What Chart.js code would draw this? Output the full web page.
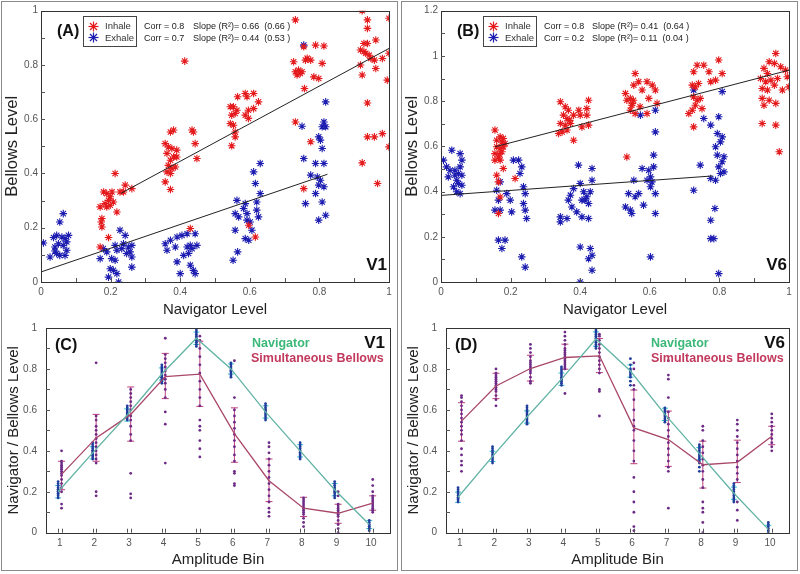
<!DOCTYPE html>
<html><head><meta charset="utf-8">
<script src="https://cdn.jsdelivr.net/npm/chart.js@4.4.0/dist/chart.umd.min.js"></script>
<style>
body{margin:0;width:800px;height:574px;position:relative;background:#fff;overflow:hidden;font-family:"Liberation Sans",Arial,sans-serif}
.col{position:absolute;top:1px;width:395px;height:570px;border:1px solid #8a8a8a;box-sizing:border-box}
canvas{position:absolute}
.t{position:absolute;white-space:nowrap;color:#111}
.lab{font-weight:bold;font-size:16px;line-height:18px}
.v{font-weight:bold;font-size:17px;line-height:18px}
.lg{position:absolute;border:1px solid #444;background:#fff;box-sizing:border-box}
.lt{position:absolute;white-space:nowrap;font-size:9.5px;line-height:12px;color:#333}
.st{position:absolute}
.nav{font-weight:bold;font-size:12.5px;line-height:14px;color:#3cb878}
.bel{font-weight:bold;font-size:12.5px;line-height:14px;color:#c23a5e}
</style></head>
<body>
<div class="col" style="left:1px;width:397px"></div>
<div class="col" style="left:401px;width:397px"></div>

<canvas id="cA" width="400" height="320" style="left:0;top:0"></canvas>
<canvas id="cB" width="400" height="320" style="left:400px;top:0"></canvas>
<canvas id="cC" width="400" height="254" style="left:0;top:320px"></canvas>
<canvas id="cD" width="400" height="254" style="left:400px;top:320px"></canvas>

<!-- Panel A annotations -->
<div class="t lab" style="left:57px;top:22px">(A)</div>
<div class="lg" style="left:83px;top:16px;width:54px;height:31px"></div>
<svg class="st" style="left:88px;top:21px" width="11" height="11"><g stroke="#e41a1c" stroke-width="1.2"><line x1="5.5" y1="0.5" x2="5.5" y2="10.5"/><line x1="0.5" y1="5.5" x2="10.5" y2="5.5"/><line x1="2" y1="2" x2="9" y2="9"/><line x1="9" y1="2" x2="2" y2="9"/></g></svg>
<svg class="st" style="left:88px;top:32px" width="11" height="11"><g stroke="#1c1cb0" stroke-width="1.2"><line x1="5.5" y1="0.5" x2="5.5" y2="10.5"/><line x1="0.5" y1="5.5" x2="10.5" y2="5.5"/><line x1="2" y1="2" x2="9" y2="9"/><line x1="9" y1="2" x2="2" y2="9"/></g></svg>
<div class="lt" style="left:105px;top:20px">Inhale</div>
<div class="lt" style="left:105px;top:32px">Exhale</div>
<div class="lt" style="left:144px;top:20px;font-size:9px;color:#222">Corr = 0.8</div>
<div class="lt" style="left:144px;top:32px;font-size:9px;color:#222">Corr = 0.7</div>
<div class="lt" style="left:193px;top:20px;font-size:9px;color:#222">Slope (R²)= 0.66&nbsp; (0.66 )</div>
<div class="lt" style="left:193px;top:32px;font-size:9px;color:#222">Slope (R²)= 0.44&nbsp; (0.53 )</div>
<div class="t v" style="right:413px;top:256px">V1</div>

<!-- Panel B annotations -->
<div class="t lab" style="left:457px;top:22px">(B)</div>
<div class="lg" style="left:483px;top:16px;width:54px;height:31px"></div>
<svg class="st" style="left:488px;top:21px" width="11" height="11"><g stroke="#e41a1c" stroke-width="1.2"><line x1="5.5" y1="0.5" x2="5.5" y2="10.5"/><line x1="0.5" y1="5.5" x2="10.5" y2="5.5"/><line x1="2" y1="2" x2="9" y2="9"/><line x1="9" y1="2" x2="2" y2="9"/></g></svg>
<svg class="st" style="left:488px;top:32px" width="11" height="11"><g stroke="#1c1cb0" stroke-width="1.2"><line x1="5.5" y1="0.5" x2="5.5" y2="10.5"/><line x1="0.5" y1="5.5" x2="10.5" y2="5.5"/><line x1="2" y1="2" x2="9" y2="9"/><line x1="9" y1="2" x2="2" y2="9"/></g></svg>
<div class="lt" style="left:505px;top:20px">Inhale</div>
<div class="lt" style="left:505px;top:32px">Exhale</div>
<div class="lt" style="left:544px;top:20px;font-size:9px;color:#222">Corr = 0.8</div>
<div class="lt" style="left:544px;top:32px;font-size:9px;color:#222">Corr = 0.2</div>
<div class="lt" style="left:592px;top:20px;font-size:9px;color:#222">Slope (R²)= 0.41&nbsp; (0.64 )</div>
<div class="lt" style="left:592px;top:32px;font-size:9px;color:#222">Slope (R²)= 0.11&nbsp; (0.04 )</div>
<div class="t v" style="right:13px;top:256px">V6</div>

<!-- Panel C annotations -->
<div class="t lab" style="left:55px;top:336px">(C)</div>
<div class="t nav" style="left:252px;top:336px">Navigator</div>
<div class="t bel" style="left:251px;top:351px">Simultaneous Bellows</div>
<div class="t v" style="right:415px;top:334px">V1</div>

<!-- Panel D annotations -->
<div class="t lab" style="left:455px;top:336px">(D)</div>
<div class="t nav" style="left:651px;top:336px">Navigator</div>
<div class="t bel" style="left:651px;top:351px">Simultaneous Bellows</div>
<div class="t v" style="right:15px;top:334px">V6</div>

<script>
// ---------------- DATA ----------------
const inhaleA = [
[0.17,0.277],[0.175,0.234],[0.173,0.221],[0.175,0.203],[0.17,0.129],[0.194,0.164],[0.18,0.332],[0.189,0.326],[0.199,0.314],[0.194,0.301],[0.204,0.332],[0.184,0.289],[0.208,0.295],[0.199,0.283],[0.213,0.4],[0.218,0.258],[0.227,0.332],[0.242,0.357],[0.237,0.332],[0.261,0.344],[0.189,0.277],
[0.381,0.56],[0.372,0.553],[0.357,0.51],[0.366,0.498],[0.376,0.492],[0.362,0.474],[0.381,0.461],[0.372,0.449],[0.39,0.486],[0.39,0.461],[0.366,0.43],[0.376,0.418],[0.386,0.424],[0.362,0.406],[0.372,0.4],[0.357,0.369],[0.372,0.341],[0.434,0.56],[0.438,0.553],[0.443,0.51],[0.448,0.455],[0.413,0.814],[0.429,0.197],
[0.544,0.646],[0.553,0.646],[0.548,0.615],[0.558,0.621],[0.544,0.584],[0.553,0.578],[0.563,0.633],[0.565,0.683],[0.587,0.695],[0.592,0.683],[0.596,0.633],[0.587,0.615],[0.596,0.603],[0.611,0.695],[0.611,0.639],[0.625,0.664],[0.558,0.553],[0.558,0.535],[0.548,0.502],[0.597,0.209],[0.616,0.166],
[0.731,0.966],[0.726,0.812],[0.736,0.763],[0.745,0.769],[0.74,0.781],[0.75,0.775],[0.731,0.775],[0.755,0.867],[0.765,0.825],[0.775,0.818],[0.76,0.818],[0.757,0.713],[0.789,0.873],[0.813,0.87],[0.784,0.756],[0.798,0.75],[0.808,0.806],[0.731,0.59],[0.775,0.517],[0.755,0.344],
[0.923,1.0],[0.938,0.966],[0.938,0.935],[1.0,0.972],[0.928,0.879],[0.938,0.879],[0.962,0.892],[0.918,0.855],[0.928,0.849],[0.933,0.843],[0.943,0.836],[0.948,0.824],[0.958,0.818],[0.918,0.8],[0.981,0.824],[1.0,0.843],[0.962,0.787],[0.923,0.763],[0.995,0.744],[0.938,0.66],[0.938,0.535],[0.958,0.535],[0.981,0.547],[1.0,0.498],[0.923,0.439],[0.967,0.363]
];
const exhaleA = [
[0.007,0.144],[0.026,0.092],[0.036,0.164],[0.04,0.129],[0.045,0.172],[0.054,0.221],[0.064,0.252],[0.05,0.141],[0.06,0.166],[0.069,0.16],[0.064,0.135],[0.074,0.148],[0.074,0.117],[0.045,0.105],[0.054,0.098],[0.069,0.098],[0.04,0.114],[0.079,0.172],
[0.17,0.086],[0.179,0.123],[0.194,0.018],[0.199,0.049],[0.208,0.043],[0.218,0.031],[0.223,0.0],[0.213,0.08],[0.203,0.086],[0.227,0.191],[0.242,0.172],[0.237,0.141],[0.251,0.129],[0.256,0.111],[0.261,0.092],[0.261,0.055],[0.246,0.105],[0.232,0.123],[0.218,0.117],[0.189,0.111],[0.213,0.135],[0.261,0.135],
[0.357,0.141],[0.362,0.117],[0.372,0.154],[0.386,0.129],[0.391,0.166],[0.405,0.172],[0.391,0.074],[0.4,0.031],[0.41,0.098],[0.42,0.129],[0.429,0.135],[0.434,0.123],[0.424,0.105],[0.429,0.062],[0.438,0.043],[0.443,0.031],[0.443,0.178],[0.448,0.135],[0.42,0.178],
[0.552,0.08],[0.558,0.191],[0.563,0.301],[0.565,0.111],[0.558,0.252],[0.568,0.24],[0.587,0.289],[0.582,0.271],[0.592,0.252],[0.587,0.16],[0.597,0.154],[0.592,0.228],[0.601,0.221],[0.606,0.191],[0.62,0.265],[0.62,0.295],[0.625,0.24],[0.611,0.406],[0.616,0.363],[0.63,0.437],[0.63,0.326],
[0.75,0.574],[0.755,0.455],[0.755,0.873],[0.775,0.394],[0.76,0.289],[0.789,0.326],[0.794,0.387],[0.798,0.535],[0.803,0.523],[0.808,0.492],[0.808,0.572],[0.818,0.572],[0.813,0.59],[0.818,0.664],[0.789,0.437],[0.813,0.437],[0.803,0.375],[0.813,0.351],[0.808,0.295],[0.798,0.228],[0.818,0.246],[0.798,0.357]
];
const inhaleB = [
[0.155,0.672],[0.16,0.627],[0.17,0.642],[0.179,0.635],[0.16,0.598],[0.17,0.59],[0.175,0.576],[0.155,0.568],[0.165,0.553],[0.179,0.598],[0.184,0.612],[0.155,0.539],[0.17,0.539],[0.16,0.472],[0.165,0.443],[0.17,0.376],[0.165,0.303],[0.213,0.458],[0.179,0.502],[0.175,0.62],[0.168,0.565],
[0.343,0.797],[0.357,0.775],[0.366,0.76],[0.352,0.738],[0.362,0.723],[0.343,0.701],[0.357,0.694],[0.372,0.701],[0.362,0.672],[0.348,0.664],[0.381,0.738],[0.396,0.76],[0.4,0.738],[0.419,0.738],[0.424,0.804],[0.419,0.767],[0.405,0.686],[0.424,0.694],[0.381,0.627],[0.338,0.657],[0.37,0.715],
[0.53,0.834],[0.554,0.871],[0.558,0.922],[0.568,0.886],[0.534,0.804],[0.544,0.812],[0.553,0.804],[0.548,0.782],[0.544,0.76],[0.558,0.745],[0.578,0.849],[0.592,0.886],[0.607,0.871],[0.597,0.812],[0.621,0.79],[0.616,0.849],[0.572,0.775],[0.592,0.745],[0.534,0.553],[0.55,0.79],
[0.726,0.93],[0.736,0.959],[0.755,0.959],[0.77,0.93],[0.798,0.982],[0.808,0.922],[0.722,0.871],[0.731,0.863],[0.74,0.878],[0.726,0.819],[0.736,0.804],[0.745,0.812],[0.731,0.782],[0.722,0.76],[0.75,0.767],[0.775,0.886],[0.789,0.893],[0.726,0.686],[0.712,0.745],
[0.962,1.011],[0.943,0.974],[0.958,0.967],[0.928,0.945],[0.938,0.922],[0.976,0.952],[0.99,0.937],[0.918,0.9],[0.933,0.886],[0.948,0.893],[0.967,0.9],[0.995,0.908],[0.923,0.856],[0.938,0.849],[0.958,0.871],[0.981,0.849],[1.0,0.863],[0.923,0.812],[0.943,0.804],[0.962,0.79],[0.928,0.782],[0.923,0.701],[0.962,0.694],[0.972,0.576]
];
const exhaleB = [
[0.007,0.539],[0.031,0.583],[0.016,0.509],[0.026,0.494],[0.021,0.465],[0.036,0.421],[0.045,0.45],[0.055,0.568],[0.06,0.539],[0.055,0.509],[0.05,0.48],[0.06,0.472],[0.05,0.436],[0.06,0.428],[0.045,0.399],[0.055,0.391],[0.04,0.494],[0.04,0.472],
[0.16,0.406],[0.17,0.443],[0.165,0.362],[0.155,0.318],[0.17,0.318],[0.165,0.185],[0.175,0.148],[0.184,0.185],[0.189,0.391],[0.199,0.362],[0.203,0.31],[0.208,0.539],[0.223,0.539],[0.227,0.48],[0.232,0.509],[0.237,0.421],[0.242,0.391],[0.237,0.347],[0.242,0.318],[0.246,0.281],[0.232,0.111],[0.242,0.066],
[0.343,0.288],[0.343,0.266],[0.362,0.281],[0.366,0.362],[0.372,0.384],[0.376,0.332],[0.381,0.413],[0.39,0.31],[0.395,0.517],[0.4,0.436],[0.405,0.288],[0.405,0.362],[0.41,0.399],[0.414,0.362],[0.419,0.377],[0.424,0.347],[0.424,0.281],[0.429,0.399],[0.434,0.502],[0.434,0.45],[0.4,0.155],[0.429,0.148],[0.434,0.118],[0.424,0.103],[0.434,0.052],[0.4,0.0],
[0.53,0.332],[0.539,0.391],[0.544,0.318],[0.548,0.303],[0.554,0.45],[0.558,0.377],[0.568,0.391],[0.578,0.502],[0.582,0.34],[0.592,0.45],[0.597,0.494],[0.602,0.465],[0.602,0.421],[0.606,0.443],[0.611,0.509],[0.611,0.561],[0.616,0.391],[0.616,0.303],[0.616,0.664],[0.616,0.76],[0.573,0.738],[0.602,0.111],
[0.726,0.406],[0.745,0.517],[0.755,0.723],[0.775,0.694],[0.775,0.273],[0.775,0.192],[0.784,0.192],[0.787,0.325],[0.798,0.037],[0.798,0.731],[0.794,0.657],[0.789,0.598],[0.794,0.561],[0.798,0.509],[0.789,0.45],[0.803,0.48],[0.808,0.532],[0.813,0.554],[0.808,0.642],[0.803,0.62],[0.813,0.487],[0.775,0.458],[0.808,0.842],[0.726,0.849]
];
// regression line end points [x, y]
const fitInhaleA = [[0.23,0.327],[1.0,0.861]];
const fitExhaleA = [[0.0,0.037],[0.823,0.397]];
const fitInhaleB = [[0.155,0.598],[1.0,0.937]];
const fitExhaleB = [[0.0,0.383],[0.78,0.469]];

const ticks01 = [0,0.2,0.4,0.6,0.8,1];
const ticks012 = [0,0.2,0.4,0.6,0.8,1,1.2];
const minor01 = [0.1,0.2,0.3,0.4,0.5,0.6,0.7,0.8,0.9];
const minor012 = [0.1,0.2,0.3,0.4,0.5,0.6,0.7,0.8,0.9,1.0,1.1];

const bins = [1,2,3,4,5,6,7,8,9,10];
// Panel C (V1)
const navMeanC = [0.2,0.39,0.575,0.775,0.95,0.8,0.59,0.4,0.21,0.04];
const navErrC  = [0.03,0.03,0.03,0.03,0.03,0.025,0.03,0.03,0.03,0.02];
const belMeanC = [0.285,0.463,0.578,0.763,0.775,0.484,0.254,0.12,0.095,0.144];
const belLoC   = [0.21,0.349,0.447,0.655,0.617,0.344,0.152,0.079,0.046,0.11];
const belHiC   = [0.349,0.578,0.712,0.876,0.935,0.61,0.36,0.173,0.139,0.18];
const navDotsC = [
 [0.17,0.18,0.19,0.2,0.2,0.21,0.22,0.23,0.24,0.25,0.19,0.21],
 [0.36,0.37,0.38,0.39,0.4,0.41,0.42,0.43,0.44,0.38,0.4],
 [0.55,0.56,0.57,0.58,0.59,0.6,0.61,0.62,0.57,0.58],
 [0.73,0.74,0.75,0.76,0.77,0.78,0.79,0.8,0.81,0.82,0.76],
 [0.91,0.92,0.93,0.94,0.95,0.96,0.97,0.98,0.99,0.94],
 [0.76,0.77,0.78,0.79,0.8,0.81,0.82,0.83,0.79],
 [0.55,0.56,0.57,0.58,0.59,0.6,0.61,0.62,0.63,0.6],
 [0.36,0.37,0.38,0.39,0.4,0.41,0.42,0.43,0.44,0.39],
 [0.17,0.18,0.19,0.2,0.21,0.22,0.23,0.24,0.25,0.2],
 [0.01,0.02,0.03,0.04,0.05,0.06,0.03]
];
const belDotsC = [
 [0.12,0.14,0.2,0.22,0.24,0.26,0.28,0.29,0.3,0.31,0.32,0.33,0.34,0.35,0.4],
 [0.18,0.2,0.34,0.36,0.38,0.4,0.42,0.44,0.46,0.48,0.5,0.52,0.55,0.57,0.83],
 [0.17,0.19,0.29,0.45,0.48,0.52,0.55,0.57,0.6,0.62,0.64,0.66,0.68,0.7],
 [0.34,0.53,0.59,0.66,0.7,0.73,0.75,0.77,0.79,0.81,0.83,0.85,0.87,0.95],
 [0.37,0.41,0.45,0.5,0.52,0.55,0.62,0.66,0.7,0.74,0.78,0.82,0.86,0.9,0.94,0.96],
 [0.23,0.24,0.29,0.3,0.35,0.38,0.42,0.45,0.48,0.51,0.54,0.57,0.6,0.66,0.84],
 [0.08,0.1,0.12,0.15,0.18,0.21,0.24,0.27,0.3,0.33,0.36,0.39,0.42,0.44],
 [0.03,0.05,0.07,0.09,0.1,0.11,0.12,0.13,0.14,0.15,0.16,0.17],
 [0.0,0.02,0.04,0.06,0.08,0.09,0.1,0.11,0.12,0.13,0.14,0.18,0.2],
 [0.1,0.11,0.12,0.13,0.14,0.15,0.16,0.17,0.18,0.2,0.23,0.26]
];
// Panel D (V6)
const navMeanD = [0.173,0.373,0.565,0.75,0.946,0.79,0.578,0.386,0.193,0.016];
const navErrD  = [0.025,0.025,0.03,0.03,0.035,0.03,0.03,0.03,0.03,0.02];
const belMeanD = [0.545,0.717,0.802,0.856,0.864,0.512,0.455,0.332,0.344,0.471];
const belLoD   = [0.447,0.655,0.741,0.799,0.782,0.337,0.324,0.218,0.245,0.43];
const belHiD   = [0.635,0.779,0.867,0.921,0.949,0.697,0.594,0.447,0.452,0.52];
const navDotsD = [
 [0.15,0.16,0.17,0.18,0.19,0.2,0.21,0.22,0.17],
 [0.34,0.35,0.36,0.37,0.38,0.39,0.4,0.41,0.42],
 [0.53,0.54,0.55,0.56,0.57,0.58,0.59,0.6,0.61,0.62],
 [0.72,0.73,0.74,0.75,0.76,0.77,0.78,0.79,0.8,0.81],
 [0.9,0.91,0.92,0.93,0.94,0.95,0.96,0.97,0.98,0.99,1.0],
 [0.72,0.74,0.76,0.77,0.78,0.79,0.8,0.82,0.85],
 [0.54,0.55,0.56,0.57,0.58,0.59,0.6,0.61],
 [0.3,0.32,0.34,0.35,0.36,0.37,0.38,0.39,0.4,0.41,0.42,0.43],
 [0.15,0.16,0.17,0.18,0.19,0.2,0.21,0.22,0.23,0.24],
 [0.0,0.01,0.02,0.03,0.04,0.05]
];
const belDotsD = [
 [0.3,0.33,0.35,0.38,0.41,0.45,0.48,0.5,0.52,0.54,0.56,0.58,0.6,0.62,0.64,0.66,0.67],
 [0.62,0.65,0.67,0.69,0.7,0.71,0.72,0.73,0.74,0.75,0.76,0.77,0.78,0.8],
 [0.73,0.74,0.76,0.78,0.79,0.8,0.81,0.82,0.83,0.84,0.86,0.88,0.9,0.92],
 [0.68,0.8,0.81,0.82,0.83,0.84,0.85,0.86,0.87,0.88,0.89,0.9,0.92,0.94,0.96,0.98],
 [0.57,0.69,0.7,0.78,0.8,0.82,0.84,0.86,0.88,0.9,0.92,0.94,0.96,0.97],
 [0.01,0.03,0.1,0.15,0.2,0.27,0.35,0.4,0.45,0.5,0.52,0.55,0.6,0.65,0.7,0.72,0.8,0.83],
 [0.12,0.3,0.32,0.35,0.38,0.41,0.44,0.47,0.5,0.53,0.56,0.59,0.66,0.75,0.77,0.84],
 [0.0,0.05,0.1,0.12,0.15,0.22,0.26,0.3,0.33,0.36,0.39,0.42,0.45,0.5,0.52],
 [0.06,0.11,0.15,0.26,0.29,0.32,0.35,0.38,0.41,0.44,0.47,0.5,0.53,0.55],
 [0.4,0.42,0.44,0.46,0.48,0.5,0.52,0.54,0.56,0.58]
];

// ---------------- STYLE / HELPERS ----------------
const RED = '#e41a1c', BLUE = '#1c1cb0';
const NAVLINE = '#62b3a4', BELLINE = '#a8476a', NAVERR = '#33c3d6', BELERR = '#bd3f7c';
const NAVDOT = '#1f3d9c', BELDOT = '#6d2a86';
const NAV_OFF = -0.05, BEL_OFF = 0.05;
Chart.defaults.font.family = "'Liberation Sans', Arial, sans-serif";
Chart.defaults.color = '#555';

const pts = arr => arr.map(p => ({x: p[0], y: p[1]}));
const binPts = (vals, off) => vals.map((v, i) => ({x: bins[i] + off, y: v}));
const dotPts = (groups, off) => groups.flatMap((g, i) => g.map(v => ({x: bins[i] + off, y: v})));
const fmt = v => String(Number(Number(v).toFixed(1)));
const fixY = w => s => { s.width = w; s.paddingTop = 0; s.paddingBottom = 0; };
const fixX = h => s => { s.height = h; s.paddingLeft = 0; s.paddingRight = 0; };

const deco = {
  id: 'deco',
  beforeDatasetsDraw(chart, args, o) {
    const {ctx, scales: {x, y}} = chart;
    (o.err || []).forEach(s => {
      ctx.save(); ctx.strokeStyle = s.color; ctx.lineWidth = 1;
      s.lo.forEach((lo, i) => {
        const px = x.getPixelForValue(bins[i] + s.off);
        const p1 = y.getPixelForValue(lo), p2 = y.getPixelForValue(s.hi[i]);
        ctx.beginPath();
        ctx.moveTo(px, p1); ctx.lineTo(px, p2);
        ctx.moveTo(px - s.cap, p1); ctx.lineTo(px + s.cap, p1);
        ctx.moveTo(px - s.cap, p2); ctx.lineTo(px + s.cap, p2);
        ctx.stroke();
      });
      ctx.restore();
    });
  },
  afterDraw(chart, args, o) {
    const {ctx, chartArea: a, scales: {x, y}} = chart;
    ctx.save();
    ctx.strokeStyle = '#333'; ctx.lineWidth = 1;
    ctx.strokeRect(Math.round(a.left) + 0.5, Math.round(a.top) + 0.5, Math.round(a.right - a.left), Math.round(a.bottom - a.top));
    ctx.strokeStyle = '#555';
    ctx.beginPath();
    (o.xt || []).forEach(v => { const px = Math.round(x.getPixelForValue(v)) + 0.5; ctx.moveTo(px, a.bottom); ctx.lineTo(px, a.bottom - 4); });
    (o.yt || []).forEach(v => { const py = Math.round(y.getPixelForValue(v)) + 0.5; ctx.moveTo(a.left, py); ctx.lineTo(a.left + 4, py); });
    ctx.stroke();
    ctx.restore();
  }
};

function scatterChart(id, inh, exh, fitI, fitE, yMax, yTicks, yMinor, yW, padR) {
  return new Chart(document.getElementById(id), {
    type: 'scatter',
    data: { datasets: [
      {data: pts(fitI), showLine: true, borderColor: '#222', borderWidth: 1, pointRadius: 0},
      {data: pts(fitE), showLine: true, borderColor: '#222', borderWidth: 1, pointRadius: 0},
      {data: pts(inh), pointStyle: 'star', pointRadius: 3.8, borderColor: RED, backgroundColor: RED, borderWidth: 1.1},
      {data: pts(exh), pointStyle: 'star', pointRadius: 3.8, borderColor: BLUE, backgroundColor: BLUE, borderWidth: 1.1}
    ]},
    options: {
      responsive: false, animation: false,
      layout: {padding: {left: 0, top: 10.7, right: padR, bottom: 0}},
      plugins: {legend: {display: false}, tooltip: {enabled: false},
        deco: {xt: minor01, yt: yMinor}},
      scales: {
        x: {type: 'linear', min: 0, max: 1, grid: {display: false, drawTicks: false}, border: {display: false},
            afterBuildTicks: s => { s.ticks = ticks01.map(v => ({value: v})); },
            afterFit: fixX(38),
            ticks: {font: {size: 10}, padding: 4, maxRotation: 0, autoSkip: false, callback: fmt},
            title: {display: true, text: 'Navigator Level', color: '#222', font: {size: 15}, padding: {top: 0, bottom: 1}}},
        y: {type: 'linear', min: 0, max: yMax, grid: {display: false, drawTicks: false}, border: {display: false},
            afterBuildTicks: s => { s.ticks = yTicks.map(v => ({value: v})); },
            afterFit: fixY(yW),
            ticks: {font: {size: 10}, padding: 3, autoSkip: false, callback: fmt},
            title: {display: true, text: 'Bellows Level', color: '#222', font: {size: 16.5}, padding: {top: 3, bottom: 0}}}
      }
    },
    plugins: [deco]
  });
}

function binChart(id, navMean, navErr, belMean, belLo, belHi, navDots, belDots, padR) {
  return new Chart(document.getElementById(id), {
    type: 'scatter',
    data: { datasets: [
      {data: binPts(navMean, NAV_OFF), showLine: true, borderColor: NAVLINE, borderWidth: 1.3, pointRadius: 0},
      {data: binPts(belMean, BEL_OFF), showLine: true, borderColor: BELLINE, borderWidth: 1.3, pointRadius: 0},
      {data: dotPts(navDots, NAV_OFF), pointStyle: 'circle', pointRadius: 1.4, borderWidth: 0, backgroundColor: NAVDOT},
      {data: dotPts(belDots, BEL_OFF), pointStyle: 'circle', pointRadius: 1.4, borderWidth: 0, backgroundColor: BELDOT}
    ]},
    options: {
      responsive: false, animation: false,
      layout: {padding: {left: 0, top: 8, right: padR, bottom: 0}},
      plugins: {legend: {display: false}, tooltip: {enabled: false},
        deco: {
          xt: bins.flatMap(b => [b + NAV_OFF, b + BEL_OFF]),
          yt: minor01,
          err: [
            {lo: navMean.map((m, i) => m - navErr[i]), hi: navMean.map((m, i) => m + navErr[i]), off: NAV_OFF, color: NAVERR, cap: 3},
            {lo: belLo, hi: belHi, off: BEL_OFF, color: BELERR, cap: 3.5}
          ]}},
      scales: {
        x: {type: 'linear', min: 0.6, max: 10.55, grid: {display: false, drawTicks: false}, border: {display: false},
            afterBuildTicks: s => { s.ticks = bins.map(v => ({value: v})); },
            afterFit: fixX(41.3),
            ticks: {font: {size: 10}, padding: 5, maxRotation: 0, autoSkip: false},
            title: {display: true, text: 'Amplitude Bin', color: '#222', font: {size: 15}, padding: {top: 0, bottom: 5}}},
        y: {type: 'linear', min: 0, max: 1, grid: {display: false, drawTicks: false}, border: {display: false},
            afterBuildTicks: s => { s.ticks = ticks01.map(v => ({value: v})); },
            afterFit: fixY(46),
            ticks: {font: {size: 10}, padding: 9, autoSkip: false, callback: fmt},
            title: {display: true, text: 'Navigator / Bellows Level', color: '#222', font: {size: 15}, padding: {top: 5, bottom: 0}}}
      }
    },
    plugins: [deco]
  });
}

scatterChart('cA', inhaleA, exhaleA, fitInhaleA, fitExhaleA, 1, ticks01, minor01, 41, 11);
scatterChart('cB', inhaleB, exhaleB, fitInhaleB, fitExhaleB, 1.2, ticks012, minor012, 41, 11);
binChart('cC', navMeanC, navErrC, belMeanC, belLoC, belHiC, navDotsC, belDotsC, 10);
binChart('cD', navMeanD, navErrD, belMeanD, belLoD, belHiD, navDotsD, belDotsD, 11);
</script>
</body></html>
